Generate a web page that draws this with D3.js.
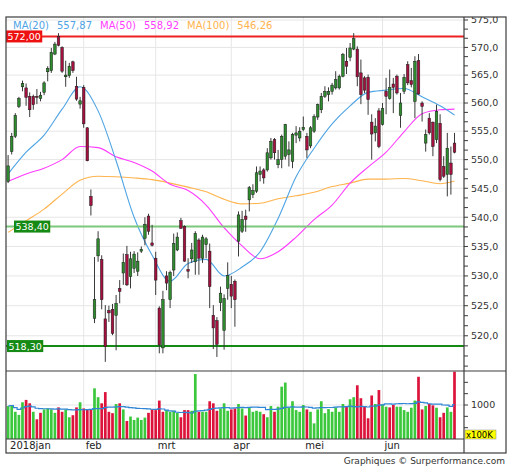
<!DOCTYPE html>
<html>
<head>
<meta charset="utf-8">
<script src="https://cdn.jsdelivr.net/npm/d3@7"></script>
<style>
  body { margin: 0; background: #fff; }
  svg { display: block; font-family: "DejaVu Sans", Verdana, sans-serif; }
</style>
</head>
<body>
<svg id="chart" width="512" height="470"></svg>
<script>
// daily candles jan - jun 2018, one entry per trading day
const open = [
  546.2, 551.4, 554.1, 559.4, 562.9, 562.7, 561.2, 561.2, 561.2, 560.8,
  561.9, 565.6, 565.8, 568.8, 572.0, 570.0, 564.7, 564.9, 567.4, 563.0,
  559.8, 562.8, 555.6, 543.6, 522.9, 533.4, 532.8, 522.8, 524.2, 524.4,
  523.4, 527.9, 530.5, 533.6, 529.9, 531.3, 530.8, 534.2, 536.4, 540.2,
  535.6, 533.0, 524.6, 518.0, 530.0, 526.0, 531.0, 534.4, 539.4, 538.4,
  531.1, 532.9, 532.4, 536.1, 533.0, 535.3, 534.2, 523.4, 522.5, 525.5,
  520.9, 527.9, 528.6, 529.1, 535.9, 537.6, 540.2, 543.0, 543.9, 544.5,
  547.4, 548.2, 548.2, 550.3, 553.5, 549.1, 550.0, 550.6, 550.9, 549.7,
  554.3, 553.8, 555.3, 554.1, 552.4, 555.0, 557.5, 558.8, 561.2, 561.5,
  562.1, 562.7, 562.7, 564.8, 567.5, 568.2, 569.7, 569.7, 565.4, 564.5,
  564.6, 556.6, 554.7, 558.6, 556.2, 562.1, 560.8, 563.4, 564.8, 557.8,
  562.1, 566.9, 564.0, 560.3, 567.6, 560.0, 552.9, 557.3, 556.6, 553.5,
  556.4, 548.8, 547.4, 549.4, 552.9
];
const high = [
  550.8, 554.7, 558.2, 561.1, 564.0, 563.5, 561.9, 561.5, 562.5, 562.0,
  563.9, 566.6, 569.9, 571.0, 572.6, 570.2, 567.6, 567.2, 567.6, 564.7,
  561.1, 563.2, 555.7, 544.8, 533.2, 537.6, 533.5, 525.1, 525.0, 525.3,
  526.8, 529.3, 533.8, 535.1, 534.1, 534.2, 534.0, 535.0, 540.0, 540.6,
  538.7, 534.1, 524.9, 527.5, 530.8, 530.9, 537.2, 537.4, 539.9, 538.6,
  533.0, 535.6, 537.6, 536.4, 537.0, 536.6, 535.5, 525.1, 523.1, 528.2,
  526.9, 532.3, 530.0, 529.4, 541.0, 541.1, 541.3, 545.4, 545.7, 548.8,
  548.8, 548.5, 552.0, 553.8, 553.8, 551.7, 554.4, 556.3, 553.2, 554.7,
  555.9, 555.7, 557.6, 554.7, 555.9, 558.0, 559.9, 561.8, 563.0, 562.8,
  563.6, 565.7, 565.1, 569.0, 569.9, 570.8, 572.6, 570.2, 567.8, 564.8,
  565.1, 558.0, 557.3, 559.1, 560.0, 564.5, 566.0, 564.5, 565.1, 561.8,
  565.2, 567.5, 566.3, 568.4, 568.8, 560.3, 555.3, 558.2, 556.7, 559.7,
  558.0, 550.6, 554.7, 552.3, 554.7
];
const low = [
  545.9, 550.9, 553.8, 559.1, 562.1, 559.5, 557.5, 558.8, 559.8, 560.3,
  561.4, 563.9, 565.4, 568.6, 570.2, 565.4, 562.9, 564.5, 565.4, 560.4,
  559.0, 555.6, 549.7, 540.3, 522.1, 532.4, 524.4, 515.7, 522.3, 520.1,
  517.6, 525.4, 528.5, 528.3, 527.9, 530.5, 530.0, 533.9, 535.2, 537.0,
  535.0, 526.8, 517.1, 517.1, 527.6, 524.6, 530.0, 534.2, 538.0, 532.4,
  529.6, 532.2, 530.2, 530.2, 532.2, 533.0, 524.6, 517.8, 516.5, 524.1,
  517.7, 526.0, 524.6, 521.5, 533.3, 537.3, 537.5, 541.0, 543.3, 544.2,
  546.2, 545.8, 547.9, 550.0, 550.0, 548.5, 548.5, 550.0, 548.8, 548.5,
  552.9, 553.2, 555.0, 550.3, 552.0, 554.7, 557.0, 558.2, 560.9, 560.3,
  561.5, 562.4, 562.4, 564.6, 565.2, 567.5, 569.5, 563.0, 559.8, 561.8,
  557.9, 550.0, 553.2, 552.0, 556.0, 558.0, 560.6, 558.2, 561.5, 555.6,
  561.6, 563.2, 562.8, 557.3, 561.5, 556.7, 551.4, 554.4, 550.6, 552.9,
  546.2, 546.8, 543.6, 543.9, 551.1
];
const close = [
  548.9, 554.1, 557.8, 560.8, 563.5, 561.0, 558.8, 559.7, 561.0, 561.4,
  563.6, 566.2, 569.1, 570.6, 570.4, 565.7, 565.0, 566.6, 565.8, 560.7,
  560.4, 556.3, 549.8, 542.0, 526.0, 536.3, 526.0, 518.2, 523.8, 520.4,
  525.4, 527.4, 532.3, 528.5, 532.9, 533.7, 532.5, 534.5, 538.8, 537.6,
  535.2, 529.3, 518.5, 526.0, 528.8, 530.6, 535.5, 536.6, 538.1, 532.5,
  530.8, 534.4, 537.2, 533.0, 536.6, 536.3, 528.2, 521.3, 518.6, 527.1,
  526.2, 530.1, 526.6, 526.0, 540.4, 539.6, 539.6, 545.1, 544.6, 547.7,
  548.0, 546.8, 551.2, 553.2, 551.2, 550.0, 554.1, 556.2, 551.7, 554.4,
  554.7, 555.0, 555.7, 551.7, 555.6, 557.6, 559.7, 561.2, 562.1, 562.1,
  563.2, 564.2, 564.8, 568.7, 566.6, 569.9, 571.6, 564.7, 561.5, 562.3,
  560.6, 554.5, 555.9, 552.3, 559.0, 561.2, 562.8, 562.8, 561.8, 560.0,
  564.6, 563.6, 563.3, 567.5, 561.6, 559.4, 554.4, 554.7, 552.3, 558.5,
  546.5, 547.1, 552.0, 547.4, 551.3
];
// volume in units of 100K
const volume = [
  970, 1000, 800, 710, 1080, 1150, 1050, 800, 580, 770,
  870, 900, 870, 770, 930, 800, 870, 640, 700, 930,
  1080, 900, 870, 870, 1490, 1230, 1050, 1380, 800, 760,
  1030, 1050, 870, 530, 660, 560, 630, 560, 630, 770,
  870, 850, 1130, 800, 850, 800, 830, 770, 640, 850,
  850, 830, 1910, 800, 800, 800, 1110, 1050, 830, 900,
  1050, 830, 870, 900, 1030, 900, 690,
  920, 800, 830, 800, 730, 640, 970, 800, 950, 1540,
  1660, 930, 1110, 850, 800, 1000, 870, 800, 460, 870,
  1110, 760, 880, 800, 930, 800, 1030, 950, 1170, 1230,
  1580, 1200, 970, 610, 1280, 1030, 1440, 1020, 950, 930,
  1000, 950, 950, 850, 800, 920, 1130, 1830, 870, 970,
  1030, 990, 920, 640, 770, 930, 800, 1980
];
// colour of each volume bar as drawn: G up, R down
const volDir = ("GGGGGRRGRR" + "GGGGRRGGRR" + "GRRRGGRRRR" + "GRGRGGGGGR" +
  "RRRRGGGGRR" + "RGGRGGRRRG" + "GGRRGGR" + "GGGGRGGRGG" + "GGGGGGRGGG" +
  "GGGGGGGRGG" + "RRRRRGRGGR" + "RGGGGGGRRG" + "RRGRRGGR").split('');

const monthLabels = ['2018jan', 'feb', 'mrt', 'apr', 'mei', 'jun'];
const monthStart = [0, 21, 41, 62, 82, 104];

// moving averages every 5 sessions
const maIdx = [0, 5, 10, 15, 20, 25, 30, 35, 40, 45, 50, 55, 60, 65, 70, 75, 80, 85, 90, 95, 100, 105, 110, 115, 120, 124];
const ma20 = [547.5, 551.3, 554.3, 558.9, 562.9, 558.6, 549.8, 540.0, 533.5, 529.1, 532.1, 532.8, 530.0, 531.5, 534.1, 539.8, 547.0, 552.0, 556.3, 559.5, 561.9, 562.3, 562.6, 561.1, 559.5, 557.87];
const ma50 = [546.2, 547.5, 548.5, 550.0, 552.3, 552.1, 550.5, 549.5, 548.0, 545.7, 544.6, 542.1, 538.2, 535.1, 532.9, 534.1, 536.6, 539.6, 542.1, 545.9, 548.7, 551.3, 554.9, 558.1, 558.8, 558.92];
const ma100 = [537.4, 539.4, 541.4, 544.0, 546.4, 547.1, 547.0, 546.8, 546.5, 545.9, 545.2, 544.4, 543.1, 542.3, 542.4, 543.2, 543.7, 544.3, 545.3, 545.9, 546.6, 546.6, 546.7, 546.3, 545.8, 546.26];

const levelValues = [572.00, 538.40, 518.30];
const priceTicks = [520, 525, 530, 535, 540, 545, 550, 555, 560, 565, 570, 575];

// ---- layout
const fLeft = 6, fTop = 17, fRight = 506, fBottom = 453;
const plotRight = 464, priceBottom = 371, volBottom = 439;

const colUp = '#2e8b2e', colDown = '#a3123f';
const volUp = '#3cc83c', volDown = '#dc143c';
const maStyles = [
  { name: 'MA(20)', data: ma20, color: '#4ea4e4' },
  { name: 'MA(50)', data: ma50, color: '#ff3cff' },
  { name: 'MA(100)', data: ma100, color: '#ffb34d' }
];
const levelStyles = [
  { line: '#ee2020', box: '#ee1111', lx: 6 },
  { line: '#7cc87c', box: '#158a15', lx: 14 },
  { line: '#158a15', box: '#158a15', lx: 7 }
];

const loc = d3.formatLocale({ decimal: ',', thousands: '.', grouping: [3], currency: ['', ''] });
const f1 = loc.format('.1f'), f2 = loc.format('.2f');

const svg = d3.select('#chart');

const x = d3.scaleLinear().domain([0, close.length - 1]).range([8.1, 454.5]);
const y = d3.scaleLog().domain([514.2, 575.55]).range([priceBottom, fTop]);
const yv = d3.scaleLinear().domain([0, 2000]).range([volBottom, priceBottom]);

const defs = svg.append('defs');
defs.append('clipPath').attr('id', 'clipPrice')
  .append('rect').attr('x', fLeft).attr('y', fTop)
  .attr('width', plotRight - fLeft).attr('height', priceBottom - fTop);
defs.append('clipPath').attr('id', 'clipVol')
  .append('rect').attr('x', fLeft).attr('y', priceBottom)
  .attr('width', plotRight - fLeft).attr('height', volBottom - priceBottom);
defs.append('clipPath').attr('id', 'clipFrame')
  .append('rect').attr('x', fLeft).attr('y', fTop)
  .attr('width', fRight - fLeft).attr('height', fBottom - fTop);

// ---- grids
const grid = svg.append('g').attr('stroke', '#e6e6e6').attr('stroke-width', 1);
grid.selectAll('.hg').data(priceTicks).enter().append('line')
  .attr('x1', fLeft).attr('x2', plotRight)
  .attr('y1', d => y(d)).attr('y2', d => y(d));
grid.selectAll('.vg').data(monthStart.slice(1)).enter().append('line')
  .attr('x1', d => x(d)).attr('x2', d => x(d))
  .attr('y1', fTop).attr('y2', volBottom);
grid.append('line')
  .attr('x1', fLeft).attr('x2', plotRight)
  .attr('y1', yv(1000)).attr('y2', yv(1000));

// ---- price panel
const price = svg.append('g').attr('clip-path', 'url(#clipPrice)');

maStyles.slice().reverse().forEach(m => {
  const line = d3.line()
    .x((d, k) => x(maIdx[k]))
    .y(d => y(d))
    .curve(d3.curveMonotoneX);
  price.append('path')
    .attr('d', line(m.data))
    .attr('fill', 'none')
    .attr('stroke', m.color)
    .attr('stroke-width', 1.1);
});

price.selectAll('.lvl').data(levelValues).enter().append('line')
  .attr('x1', fLeft).attr('x2', plotRight)
  .attr('y1', d => y(d)).attr('y2', d => y(d))
  .attr('stroke', (d, k) => levelStyles[k].line)
  .attr('stroke-width', 2);

const idx = d3.range(close.length);
price.selectAll('.wick').data(idx).enter().append('line')
  .attr('x1', i => x(i)).attr('x2', i => x(i))
  .attr('y1', i => y(high[i])).attr('y2', i => y(low[i]))
  .attr('stroke', '#3a3a3a').attr('stroke-width', 1);
price.selectAll('.body').data(idx).enter().append('rect')
  .attr('x', i => x(i) - 1.3)
  .attr('width', 2.6)
  .attr('y', i => y(Math.max(open[i], close[i])))
  .attr('height', i => Math.max(0.8, Math.abs(y(open[i]) - y(close[i]))))
  .attr('fill', i => close[i] >= open[i] ? colUp : colDown)
  .attr('stroke', '#1a1a1a').attr('stroke-width', 0.5);

// level labels
levelValues.forEach((v, k) => {
  const g = svg.append('g');
  const t = g.append('text')
    .attr('x', levelStyles[k].lx + 1.5)
    .attr('y', y(v) + 3.5)
    .attr('fill', '#fff')
    .attr('font-size', 9.5)
    .text(f2(v));
  const w = t.node().getComputedTextLength();
  g.insert('rect', 'text')
    .attr('x', levelStyles[k].lx).attr('y', y(v) - 6)
    .attr('width', w + 3).attr('height', 12)
    .attr('fill', levelStyles[k].box);
});

// legend
let lx = 13;
maStyles.forEach(m => {
  [m.name, f2(m.data[m.data.length - 1])].forEach(s => {
    const t = svg.append('text')
      .attr('x', lx).attr('y', 29)
      .attr('fill', m.color)
      .attr('font-size', 10)
      .text(s);
    lx += t.node().getComputedTextLength() + 8;
  });
});

// ---- volume panel
const vol = svg.append('g').attr('clip-path', 'url(#clipVol)');
vol.selectAll('.vb').data(idx).enter().append('rect')
  .attr('x', i => x(i) - 1.35)
  .attr('width', 2.7)
  .attr('y', i => yv(volume[i]))
  .attr('height', i => volBottom - yv(volume[i]))
  .attr('fill', i => volDir[i] === 'G' ? volUp : volDown);

const volMA = idx.map(i => d3.mean(volume.slice(Math.max(0, i - 19), i + 1)));
vol.append('path')
  .attr('d', d3.line().x((d, i) => x(i)).y(d => yv(d)).curve(d3.curveStep)(volMA))
  .attr('fill', 'none')
  .attr('stroke', '#2f86d6')
  .attr('stroke-width', 1.2);

// ---- frame and axes
const frame = svg.append('g').attr('stroke', '#3c3c3c').attr('fill', 'none');
frame.append('rect')
  .attr('x', fLeft).attr('y', fTop)
  .attr('width', fRight - fLeft).attr('height', fBottom - fTop)
  .attr('stroke-width', 1.2);
frame.append('line').attr('x1', plotRight).attr('x2', plotRight)
  .attr('y1', fTop).attr('y2', fBottom).attr('stroke-width', 1.2);
frame.append('line').attr('x1', fLeft).attr('x2', fRight)
  .attr('y1', priceBottom).attr('y2', priceBottom).attr('stroke-width', 1.2);
frame.append('line').attr('x1', fLeft).attr('x2', plotRight)
  .attr('y1', volBottom).attr('y2', volBottom).attr('stroke-width', 1.2);

const axis = svg.append('g').attr('clip-path', 'url(#clipFrame)');
const minorPrice = d3.range(0, 37).map(k => 515 + k * 5 / 3);
axis.selectAll('.pt').data(minorPrice).enter().append('line')
  .attr('x1', plotRight).attr('x2', plotRight + 4)
  .attr('y1', d => y(d)).attr('y2', d => y(d))
  .attr('stroke', '#3c3c3c');
axis.selectAll('.pl').data(priceTicks).enter().append('text')
  .attr('x', plotRight + 7)
  .attr('y', d => y(d) + 3.3)
  .attr('font-size', 9.5)
  .attr('fill', '#333')
  .text(d => f1(d));

const volTicks = d3.range(1, 6).map(k => k * 1000 / 3);
axis.selectAll('.vt').data(volTicks).enter().append('line')
  .attr('x1', plotRight).attr('x2', plotRight + 4)
  .attr('y1', d => yv(d)).attr('y2', d => yv(d))
  .attr('stroke', '#3c3c3c');
axis.append('text')
  .attr('x', plotRight + 7).attr('y', yv(1000) + 3.3)
  .attr('font-size', 9.5).attr('fill', '#333')
  .text('1000');

const unit = axis.append('g');
unit.append('rect')
  .attr('x', plotRight + 1).attr('y', volBottom - 9)
  .attr('width', 31).attr('height', 9)
  .attr('fill', '#ffff00').attr('stroke', '#888').attr('stroke-width', 0.5);
unit.append('text')
  .attr('x', plotRight + 2).attr('y', volBottom - 1.5)
  .attr('font-size', 8.5).attr('fill', '#000')
  .text('x100K');

// month labels
svg.selectAll('.ml').data(monthStart).enter().append('text')
  .attr('x', d => x(d) + 2)
  .attr('y', 449)
  .attr('font-size', 10)
  .attr('fill', '#222')
  .text((d, k) => monthLabels[k]);

svg.append('text')
  .attr('x', 505).attr('y', 464)
  .attr('text-anchor', 'end')
  .attr('font-size', 9)
  .attr('fill', '#333')
  .text('Graphiques © Surperformance.com');
</script>
</body>
</html>
